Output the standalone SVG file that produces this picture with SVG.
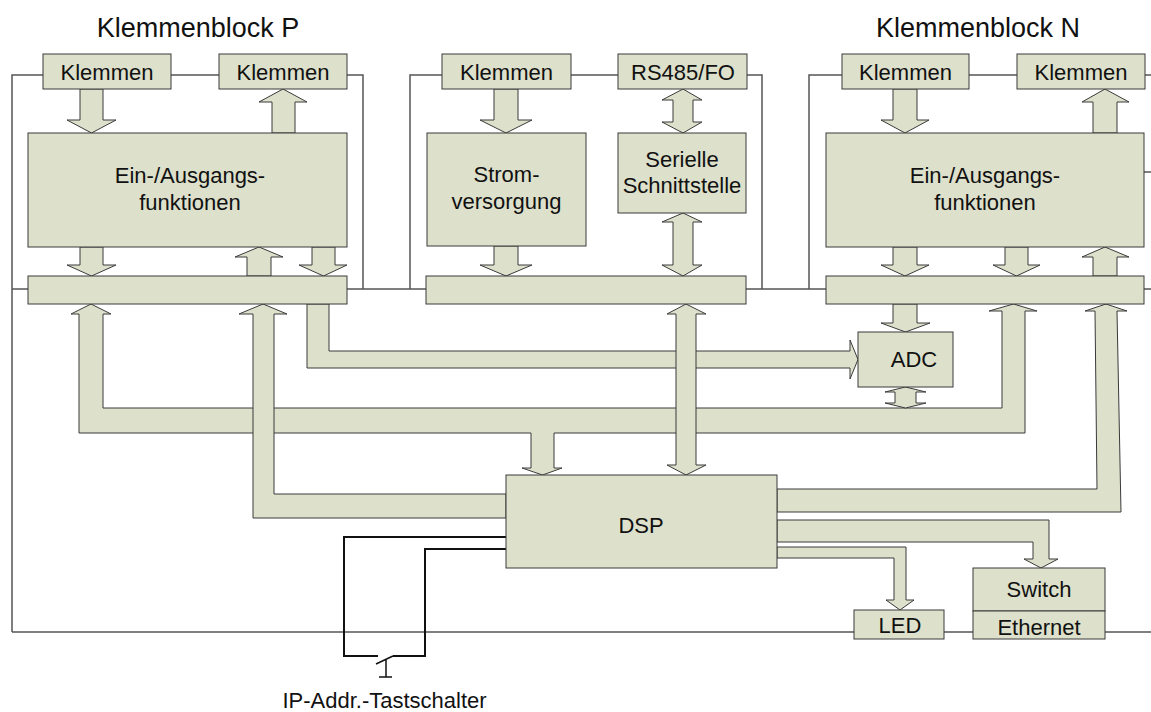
<svg xmlns="http://www.w3.org/2000/svg" width="1151" height="712" viewBox="0 0 1151 712">
<style>
.f{fill:#dde0cb;stroke:#3a3a3a;stroke-width:1}
.frame{fill:none;stroke:#555;stroke-width:1.5}
.wire{fill:none;stroke:#111;stroke-width:2}
.sym{fill:none;stroke:#111;stroke-width:1.5}
text{font-family:"Liberation Sans",Arial,sans-serif;font-size:22px;fill:#111;text-anchor:middle}
.title{font-size:27px}
</style>
<rect width="1151" height="712" fill="#fff"/>
<g id="frame">
<path class="frame" d="M43,75 H12 V632"/>
<path class="frame" d="M171,75 H219"/>
<path class="frame" d="M347,75 H363 V289"/>
<path class="frame" d="M12,289 H1151"/>
<path class="frame" d="M442,75 H410 V289"/>
<path class="frame" d="M571,75 H618"/>
<path class="frame" d="M747,75 H762 V289"/>
<path class="frame" d="M842,75 H809 V289"/>
<path class="frame" d="M969,75 H1017"/>
<path class="frame" d="M1145,75 H1151"/>
<path class="frame" d="M1144,172 H1151"/>
<path class="frame" d="M12,632 H1151"/>
</g>
<g id="titles">
<text class="title" x="198" y="37">Klemmenblock P</text>
<text class="title" x="978" y="37">Klemmenblock N</text>
</g>
<g id="connectors">
<!-- section 1 -->
<path class="f" d="M80,89 V120 H67 L91.5,133 L116,120 H103 V89 Z"/>
<path class="f" d="M272,133 V102 H259 L283,89 L307,102 H295 V133 Z"/>
<path class="f" d="M80,247 V265 H67 L91.5,276 L116,265 H103 V247 Z"/>
<path class="f" d="M247,276 V257 H235 L259,247 L283,257 H271 V276 Z"/>
<path class="f" d="M312,247 V265 H299 L323.5,276 L347,265 H335 V247 Z"/>
<!-- section 2 -->
<path class="f" d="M494,89 V120 H480 L506,133 L532,120 H518 V89 Z"/>
<path class="f" d="M494,246 V265 H480 L506,276 L532,265 H518 V246 Z"/>
<path class="f" d="M683,89 L702,100 H693 V122 H702 L683,133 L662,122 H673 V100 H662 Z"/>
<path class="f" d="M683,213 L702,222 H693 V265 H702 L683,276 L662,265 H673 V222 H662 Z"/>
<!-- section 3 -->
<path class="f" d="M893,89 V120 H881 L905,133 L929,120 H917 V89 Z"/>
<path class="f" d="M1093,133 V102 H1082 L1105,89 L1129,102 H1117 V133 Z"/>
<path class="f" d="M893,247 V265 H881 L905,276 L929,265 H917 V247 Z"/>
<path class="f" d="M1005,247 V265 H993 L1016.5,276 L1040,265 H1028 V247 Z"/>
<path class="f" d="M1093,276 V257 H1082 L1105,247 L1129,257 H1117 V276 Z"/>
<!-- lower buses -->
<path class="f" d="M91,304 L111,314 H103 V408 H1002 V311 H989 L1013.5,304 L1037,311 H1025 V433 H554 V468 H562 L542.5,475 L522,468 H531 V433 H79 V314 H71 Z"/>
<path class="f" d="M307,304 H329 V351 H850 V340 L858,359.5 L850,379 V368 H307 Z"/>
<path class="f" d="M263,304 L287,314 H274 V494 H506 V518 H253 V314 H239 Z"/>
<path class="f" d="M686,304 L706,314 H696 V465 H706 L686,475 L667,465 H676 V314 H667 Z"/>
<path class="f" d="M905.5,387 L926,392 H916 V403 H926 L905.5,408 L885,403 H895 V392 H885 Z"/>
<path class="f" d="M893,304 V323 H881 L905.5,332 L930,323 H917 V304 Z"/>
<path class="f" d="M777,489 H1097 L1095,311 H1085 L1106,304 L1127,311 H1117 L1121,512 H777 Z"/>
<path class="f" d="M777,520 H1049 V559 H1058 L1041,568 L1024,559 H1033 V542 H777 Z"/>
<path class="f" d="M777,547 H906 V600 H914 L900,610 L886,600 H894 V558 H777 Z"/>
<!-- switch wires -->
<path class="wire" d="M507,537 H344 V656 H378"/>
<path class="wire" d="M507,549 H425 V656 H393"/>
<path class="sym" d="M393,656 L376,664 M386,660 V677 M379,677 H392"/>
</g>
<g id="klemmen1"><rect class="f" x="43" y="54" width="128" height="35"/><text x="107" y="80">Klemmen</text></g>
<g id="klemmen2"><rect class="f" x="219" y="54" width="128" height="35"/><text x="283" y="80">Klemmen</text></g>
<g id="ea1"><rect class="f" x="28" y="133" width="319" height="114"/><text x="190" y="183">Ein-/Ausgangs-</text><text x="190" y="210">funktionen</text></g>
<g id="bar1"><rect class="f" x="28" y="276" width="319" height="28"/></g>
<g id="klemmen3"><rect class="f" x="442" y="54" width="129" height="35"/><text x="506.5" y="80">Klemmen</text></g>
<g id="rs485"><rect class="f" x="618" y="54" width="129" height="35"/><text x="683" y="80">RS485/FO</text></g>
<g id="strom"><rect class="f" x="427" y="133" width="159" height="113"/><text x="506.5" y="182">Strom-</text><text x="506.5" y="209">versorgung</text></g>
<g id="seriell"><rect class="f" x="618" y="133" width="128" height="80"/><text x="682" y="167">Serielle</text><text x="682" y="193">Schnittstelle</text></g>
<g id="bar2"><rect class="f" x="426" y="276" width="320" height="28"/></g>
<g id="klemmen5"><rect class="f" x="842" y="54" width="127" height="35"/><text x="905.5" y="80">Klemmen</text></g>
<g id="klemmen6"><rect class="f" x="1017" y="54" width="128" height="35"/><text x="1081" y="80">Klemmen</text></g>
<g id="ea2"><rect class="f" x="826" y="133" width="318" height="114"/><text x="985" y="183">Ein-/Ausgangs-</text><text x="985" y="210">funktionen</text></g>
<g id="bar3"><rect class="f" x="826" y="276" width="318" height="28"/></g>
<g id="adc"><rect class="f" x="858" y="332" width="95" height="55"/><text x="914" y="367">ADC</text></g>
<g id="dsp"><rect class="f" x="506" y="475" width="271" height="93"/><text x="641" y="533">DSP</text></g>
<g id="led"><rect class="f" x="854" y="610" width="90" height="29"/><text x="900" y="633">LED</text></g>
<g id="switch"><rect class="f" x="973" y="568" width="132" height="43"/><text x="1039" y="597">Switch</text><rect class="f" x="973" y="611" width="132" height="28"/><text x="1039" y="635">Ethernet</text></g>
<g id="taster"><text x="384.5" y="708">IP-Addr.-Tastschalter</text></g>
</svg>
